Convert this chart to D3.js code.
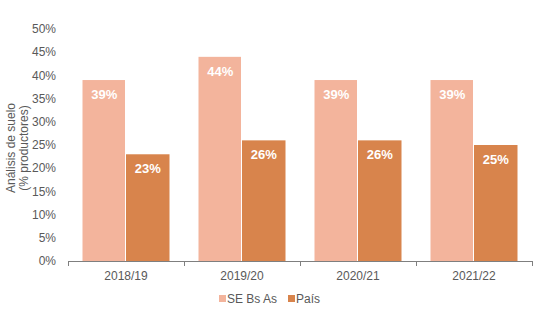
<!DOCTYPE html>
<html><head><meta charset="utf-8">
<script src="https://cdn.jsdelivr.net/npm/d3@7"></script>
<style>body{margin:0;background:#fff;font-family:"Liberation Sans",Arial,sans-serif;}</style>
</head><body><svg id="c" width="549" height="322"></svg>
<script>
const categories = ["2018/19","2019/20","2020/21","2021/22"];
const seriesNames = ["SE Bs As","País"];
const seBsAs = [39,44,39,39];
const pais = [23,26,26,25];
const yTicks = [0,5,10,15,20,25,30,35,40,45,50];
const colors = ["#F3B49C","#D8844C"];

const svg = d3.select("#c");
const m = {l:68, r:17, t:29, b:61};
const W = 549, H = 322;
const x = d3.scaleBand().domain(categories).range([m.l, W-m.r]).paddingInner(0.25).paddingOuter(0.125);
const xs = d3.scaleBand().domain(seriesNames).range([0, x.bandwidth()]).padding(0);
const y = d3.scaleLinear().domain([0,50]).range([H-m.b, m.t]);

// y tick labels
svg.append("g").selectAll("text").data(yTicks).join("text")
  .attr("x", m.l-12).attr("y", d=>y(d)).attr("dy","0.35em")
  .attr("text-anchor","end").attr("font-size",12).attr("fill","#595959")
  .text(d=>d+"%");

// y title
const yt = svg.append("text").attr("transform",`translate(15,${(y(0)+y(50))/2+3}) rotate(-90)`)
  .attr("text-anchor","middle").attr("font-size",12).attr("fill","#595959");
yt.append("tspan").attr("x",0).attr("dy","0em").text("Análisis de suelo");
yt.append("tspan").attr("x",0).attr("dy","1.08em").text("(% productores)");

const data = categories.map((c,i)=>({c, vals:[seBsAs[i], pais[i]]}));
const g = svg.append("g");
data.forEach(d=>{
  d.vals.forEach((v,j)=>{
    const bx = x(d.c)+xs(seriesNames[j]);
    g.append("rect").attr("x",bx).attr("y",y(v)).attr("width",xs.bandwidth()-(j===0?1:0))
      .attr("height",y(0)-y(v)).attr("fill",colors[j]);
    g.append("text").attr("x",bx+xs.bandwidth()/2).attr("y",y(v)+19)
      .attr("text-anchor","middle").attr("font-size",13).attr("font-weight","bold")
      .attr("fill","#fff").text(v+"%");
  });
});

// x axis
const ax = svg.append("g").attr("stroke","#7f7f7f").attr("stroke-width",1);
ax.append("line").attr("x1",m.l).attr("x2",W-m.r).attr("y1",y(0)+0.5).attr("y2",y(0)+0.5);
const bounds = categories.map(c=>x(c)-x.step()*x.paddingInner()/2).concat([W-m.r]);
bounds[0]=m.l;
ax.selectAll("line.t").data(bounds).join("line").attr("class","t")
  .attr("x1",d=>Math.round(d)+0.5).attr("x2",d=>Math.round(d)+0.5).attr("y1",y(0)).attr("y2",y(0)+5);
svg.append("g").selectAll("text").data(categories).join("text")
  .attr("x",d=>x(d)+x.bandwidth()/2).attr("y",y(0)+19).attr("text-anchor","middle")
  .attr("font-size",12).attr("fill","#595959").text(d=>d);

// legend
const leg = svg.append("g");
const lx = [219, 288];
seriesNames.forEach((s,i)=>{
  leg.append("rect").attr("x",lx[i]).attr("y",295).attr("width",7).attr("height",7).attr("fill",colors[i]);
  leg.append("text").attr("x",lx[i]+8).attr("y",302.5).attr("font-size",12).attr("fill","#595959").text(s);
});
</script></body></html>
